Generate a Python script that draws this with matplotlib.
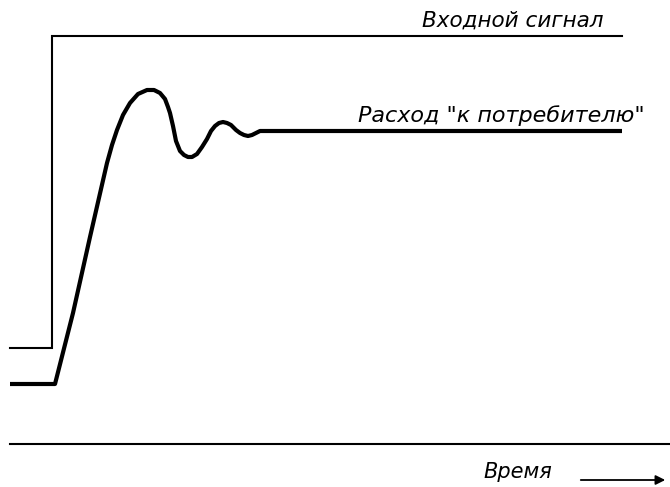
import matplotlib
matplotlib.use("Agg")
import matplotlib.pyplot as plt

# Input signal (step)
input_t = [10, 52, 52, 622]
input_v = [348, 348, 36, 36]

# Response "к потребителю"
resp_t = [10, 55, 73, 90, 107, 112, 117, 123, 130, 138, 147, 154, 160, 165, 168,
          170, 173, 176, 180, 184, 188, 192, 197, 202, 207,
          211, 215, 219, 223, 227, 231, 236, 240, 244, 248, 252, 256, 260, 264, 622]
resp_v = [384, 384, 313, 237, 163, 145, 130, 115, 103, 94, 90, 90, 93, 99, 107,
          113, 126, 141, 151, 155, 157, 157, 154, 147, 139,
          131, 126, 123, 122, 123, 125, 130, 133, 135, 136, 135, 133, 131, 131, 131]

fig = plt.figure(figsize=(6.70, 4.87), dpi=100)
ax = fig.add_axes([0, 0, 1, 1])
ax.set_xlim(0, 670)
ax.set_ylim(487, 0)
ax.axis("off")

ax.plot(input_t, input_v, color="black", lw=1.5, solid_joinstyle="miter")
ax.plot(resp_t, resp_v, color="black", lw=3.0, solid_joinstyle="round", solid_capstyle="butt")

# time axis
ax.plot([10, 670], [444, 444], color="black", lw=1.5)

font = dict(family="DejaVu Sans", style="italic", color="black")
ax.text(603, 27, "Входной сигнал", ha="right", va="baseline", fontsize=15.5, **font)
ax.text(645, 122, "Расход \"к потребителю\"", ha="right", va="baseline", fontsize=16, **font)
ax.text(552, 478, "Время", ha="right", va="baseline", fontsize=15, **font)
ax.annotate("", xy=(668, 480), xytext=(578, 480),
            arrowprops=dict(arrowstyle="-|>", color="black", lw=1.3, mutation_scale=14))

fig.savefig("out.png", dpi=100)
